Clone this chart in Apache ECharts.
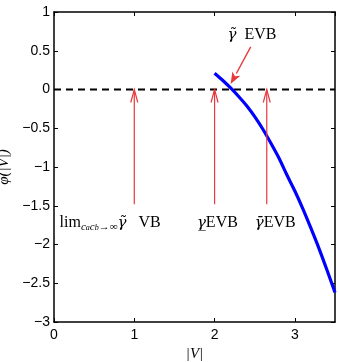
<!DOCTYPE html>
<html><head><meta charset="utf-8">
<script src="https://cdn.jsdelivr.net/npm/echarts@6/dist/echarts.min.js"></script>
<style>html,body{margin:0;padding:0;background:#fff}#c{width:338px;height:362px}</style>
</head><body><div id="c"></div>
<script>
const xTicks = [0, 1, 2, 3];
const yTicks = [-3, -2.5, -2, -1.5, -1, -0.5, 0, 0.5, 1];
const curveX = [2.0, 2.1, 2.2, 2.3, 2.4, 2.5, 2.6, 2.7, 2.8, 2.9, 3.0, 3.1, 3.2, 3.3, 3.4, 3.5];
const curveY = [0.21, 0.12, 0.02, -0.09, -0.21, -0.35, -0.51, -0.69, -0.88, -1.10, -1.31, -1.54, -1.79, -2.05, -2.33, -2.62];
const zeroLineX = [0, 3.5];
const zeroLineY = [0, 0];
const upArrowX = [1, 2, 2.65];
const upArrowFrom = -1.48;
const upArrowTo = 0;
const diagArrow = [[2.45, 0.55], [2.2, 0.07]];
const labelPos = [[0.07, -1.72], [1.78, -1.72], [2.5, -1.72], [2.16, 0.70]];
const labelText = [
  '{m|lim}{s|c}{ss|a}{s|c}{ss|b}{s|→∞}{g|γ̃}{m|   VB}',
  '{g|γ̲}{m|EVB}',
  '{g|γ̄}{m|EVB}',
  '{g|γ̃}{m|  EVB}'
];

const RED = '#e8383d';
const serif = 'Liberation Serif';
const chart = echarts.init(document.getElementById('c'));

function axisCommon(show) {
  return {
    axisLine: {show: true, onZero: false, lineStyle: {color: '#000', width: 1.5}},
    axisTick: {show: true, inside: true, length: 4, lineStyle: {color: '#000', width: 1}},
    splitLine: {show: false},
    axisLabel: {show: show, color: '#000', fontFamily: 'Liberation Sans', fontSize: 14}
  };
}

chart.setOption({
  animation: false,
  grid: {left: 54, right: 3, top: 12, bottom: 40, outerBoundsMode: 'none', containLabel: false},
  xAxis: [
    Object.assign({type: 'value', min: 0, max: 3.5, interval: 1, position: 'bottom',
      name: '|V|', nameLocation: 'middle', nameGap: 22,
      nameTextStyle: {fontFamily: serif, fontStyle: 'italic', fontSize: 15, color: '#000'}}, axisCommon(true),
      {axisLabel: {color: '#000', fontFamily: 'Liberation Sans', fontSize: 14, margin: 6,
        showMaxLabel: false, formatter: v => xTicks.indexOf(v) >= 0 ? String(v) : ''}}),
    Object.assign({type: 'value', min: 0, max: 3.5, interval: 1, position: 'top'}, axisCommon(false))
  ],
  yAxis: [
    Object.assign({type: 'value', min: -3, max: 1, interval: 0.5, position: 'left',
      name: 'φ(|V|)', nameLocation: 'middle', nameGap: 32, nameRotate: 90,
      nameTextStyle: {fontFamily: serif, fontStyle: 'italic', fontSize: 15, color: '#000'}}, axisCommon(true),
      {axisLabel: {color: '#000', fontFamily: 'Liberation Sans', fontSize: 14, margin: 4,
        formatter: v => yTicks.indexOf(v) >= 0 ? String(v).replace('-', '\u2212') : ''}}),
    Object.assign({type: 'value', min: -3, max: 1, interval: 0.5, position: 'right'}, axisCommon(false))
  ],
  series: [
    {type: 'line', data: zeroLineX.map((x, i) => [x, zeroLineY[i]]), symbol: 'none',
      lineStyle: {color: '#000', width: 2, type: [7, 5]}, z: 2},
    {type: 'line', data: curveX.map((x, i) => [x, curveY[i]]), symbol: 'none', smooth: 0.3,
      lineStyle: {color: '#0000ff', width: 3.2}, z: 3},
    {type: 'custom', z: 4, data: upArrowX.map(x => [x]),
      renderItem: function (params, api) {
        const x = api.value(0);
        const p0 = api.coord([x, upArrowFrom]);
        const p1 = api.coord([x, upArrowTo]);
        return {type: 'group', children: [
          {type: 'line', shape: {x1: p0[0], y1: p0[1], x2: p1[0], y2: p1[1]},
            style: {stroke: RED, lineWidth: 1.2}},
          {type: 'polyline', shape: {points: [[p1[0] - 3.5, p1[1] + 13], [p1[0], p1[1]], [p1[0] + 3.5, p1[1] + 13]]},
            style: {stroke: RED, lineWidth: 1.2, fill: null}}
        ]};
      }},
    {type: 'custom', z: 5, data: [0],
      renderItem: function (params, api) {
        const a = api.coord(diagArrow[0]);
        const b = api.coord(diagArrow[1]);
        const dx = b[0] - a[0], dy = b[1] - a[1];
        const L = Math.sqrt(dx * dx + dy * dy);
        const ux = dx / L, uy = dy / L;
        const hl = 12, hw = 4.5;
        const bx = b[0] - ux * hl, by = b[1] - uy * hl;
        return {type: 'group', children: [
          {type: 'line', shape: {x1: a[0], y1: a[1], x2: bx, y2: by}, style: {stroke: RED, lineWidth: 1.4}},
          {type: 'polygon', shape: {points: [[b[0], b[1]], [bx - uy * hw, by + ux * hw], [bx + ux * 3, by + uy * 3], [bx + uy * hw, by - ux * hw]]},
            style: {fill: RED}}
        ]};
      }},
    {type: 'custom', z: 6, data: labelPos.map((p, i) => [p[0], p[1], i]),
      renderItem: function (params, api) {
        const p = api.coord([api.value(0), api.value(1)]);
        const i = api.value(2);
        return {type: 'text', x: p[0], y: p[1], style: {
          text: labelText[i], align: 'left', verticalAlign: 'middle',
          rich: {
            m: {fontFamily: serif, fontSize: 16, color: RED},
            g: {fontFamily: 'DejaVu Serif', fontStyle: 'italic', fontSize: 15, color: RED},
            s: {fontFamily: serif, fontStyle: 'italic', fontSize: 11, color: RED, padding: [8, 0, 0, 0]},
            ss: {fontFamily: serif, fontStyle: 'italic', fontSize: 8, color: RED, padding: [11, 0, 0, 0]}
          }
        }};
      }}
  ]
});
</script></body></html>
